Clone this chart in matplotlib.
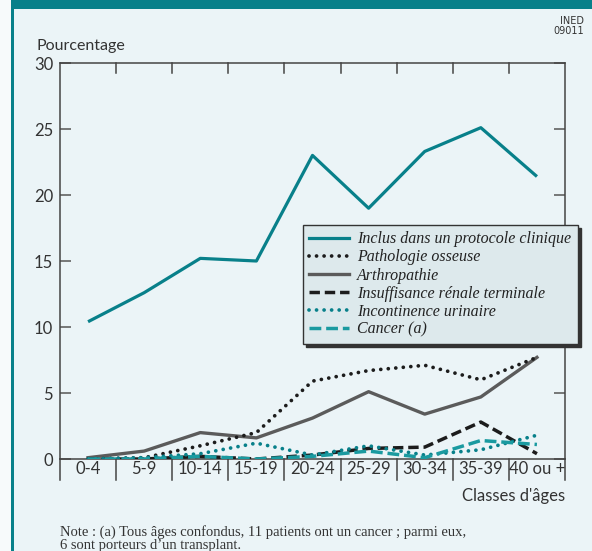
import matplotlib
matplotlib.use("Agg")
import matplotlib.pyplot as plt
from matplotlib.patches import Rectangle
from matplotlib.lines import Line2D
import matplotlib.transforms as mtransforms

W, H = 592, 551
categories = ["0-4", "5-9", "10-14", "15-19", "20-24", "25-29", "30-34", "35-39", "40 ou +"]
inclus = [10.4, 12.6, 15.2, 15.0, 23.0, 19.0, 23.3, 25.1, 21.4]
pathologie = [0.0, 0.1, 1.0, 2.0, 5.9, 6.7, 7.1, 6.0, 7.7]
arthropathie = [0.1, 0.6, 2.0, 1.6, 3.1, 5.1, 3.4, 4.7, 7.7]
insuffisance = [0.0, 0.0, 0.2, 0.0, 0.3, 0.8, 0.9, 2.8, 0.4]
incontinence = [0.0, 0.1, 0.4, 1.2, 0.3, 1.0, 0.3, 0.7, 1.8]
cancer = [0.0, 0.0, 0.2, 0.0, 0.2, 0.6, 0.1, 1.4, 1.1]
yticks = [0, 5, 10, 15, 20, 25, 30]

TEAL = "#08808a"
TEAL2 = "#1a9aa0"
GRAY = "#5b5b5b"
BLACK = "#1c1c1c"
PANEL = "#ebf4f7"
SANS = ["Lato", "DejaVu Sans"]
SERIF = ["Liberation Serif", "DejaVu Serif"]

DOT = (0, (0.01, 2.0))
DASH_K = (0, (3.0, 1.4))
DASH_T = (0, (3.4, 1.4))

fig = plt.figure(figsize=(W / 100, H / 100), dpi=100)
fig.patch.set_facecolor("#f7fafb")

def fx(x):
    return x / W

def fy(y):
    return 1 - y / H

# Frame
fig.patches.append(Rectangle((fx(14), 0), 1 - fx(14), fy(9), transform=fig.transFigure,
                             facecolor=PANEL, edgecolor="none", zorder=-10))
fig.patches.append(Rectangle((fx(11), fy(9)), 1 - fx(11), 9 / H, transform=fig.transFigure,
                             facecolor=TEAL, edgecolor="none", zorder=-9))
fig.patches.append(Rectangle((fx(11), 0), 3 / W, 1, transform=fig.transFigure,
                             facecolor=TEAL, edgecolor="none", zorder=-9))
fig.text(fx(360), fy(-6), "(en pourcentage par tranche d'âge)", ha="center", va="baseline",
         color="white", fontsize=17, fontweight="bold", family=SERIF)

ax = fig.add_axes([fx(60), 1 - 459 / H, (565 - 60) / W, (459 - 63) / H])
ax.set_facecolor("none")
x = list(range(len(categories)))

ax.plot(x, inclus, color=TEAL, lw=2.3, solid_capstyle="butt", zorder=5)
ax.plot(x, pathologie, color=BLACK, lw=2.7, ls=DOT, dash_capstyle="round", zorder=4)
ax.plot(x, arthropathie, color=GRAY, lw=2.4, zorder=3)
ax.plot(x, insuffisance, color=BLACK, lw=2.5, ls=DASH_K, zorder=4)
ax.plot(x, incontinence, color=TEAL, lw=2.7, ls=DOT, dash_capstyle="round", zorder=4)
ax.plot(x, cancer, color=TEAL2, lw=2.5, ls=DASH_T, zorder=4)

ax.set_xlim(-0.5, len(categories) - 0.5)
ax.set_ylim(0, 30)
ax.set_yticks(yticks)
ax.set_yticklabels([str(v) for v in yticks], family=SANS, fontsize=12, color="#333333")
ax.tick_params(axis="y", direction="in", length=8, width=1.1, color="#555555", pad=5,
               right=True, left=True)
ax.set_xticks([])
for sp in ax.spines.values():
    sp.set_color("#444444")
    sp.set_linewidth(1.1)

# top ticks and category separators
trans = mtransforms.blended_transform_factory(ax.transData, ax.transAxes)
ext = 21 / 396
for b in [i + 0.5 for i in range(-1, len(categories))]:
    if -0.5 < b < len(categories) - 0.5:
        ax.plot([b, b], [1, 1 - 10 / 396], transform=trans, color="#444444", lw=1.1, clip_on=False)
    ax.plot([b, b], [0, -ext], transform=trans, color="#444444", lw=1.1, clip_on=False)
for i, c in enumerate(categories):
    ax.text(i, -10 / 396, c, transform=trans, ha="center", va="center", fontsize=12,
            family=SANS, color="#333333")

fig.text(fx(565), fy(496), "Classes d'âges", ha="right", va="center", fontsize=12,
         family=SANS, color="#333333")
fig.text(fx(37), fy(46), "Pourcentage", ha="left", va="center", fontsize=11.5,
         family=SANS, color="#333333")
fig.text(fx(584), fy(26), "INED\n09011", ha="right", va="center", fontsize=7,
         family=["Liberation Sans Narrow", "DejaVu Sans"], color="#333333", linespacing=0.95)
fig.text(fx(60), fy(532), "Note : (a) Tous âges confondus, 11 patients ont un cancer ; parmi eux,",
         ha="left", va="center", fontsize=10.5, family=SERIF, color="#333333")
fig.text(fx(60), fy(546), "6 sont porteurs d\u2019un transplant.",
         ha="left", va="center", fontsize=10.5, family=SERIF, color="#333333")

handles = [
    Line2D([], [], color=TEAL, lw=2.3),
    Line2D([], [], color=BLACK, lw=2.7, ls=DOT, dash_capstyle="round"),
    Line2D([], [], color=GRAY, lw=2.4),
    Line2D([], [], color=BLACK, lw=2.5, ls=DASH_K),
    Line2D([], [], color=TEAL, lw=2.7, ls=DOT, dash_capstyle="round"),
    Line2D([], [], color=TEAL2, lw=2.5, ls=DASH_T),
]
labels = ["Inclus dans un protocole clinique", "Pathologie osseuse", "Arthropathie",
          "Insuffisance rénale terminale", "Incontinence urinaire", "Cancer (a)"]
leg = fig.legend(handles, labels, loc="upper left", bbox_to_anchor=(fx(303), fy(225)),
                 bbox_transform=fig.transFigure, frameon=True, fancybox=False,
                 shadow={"color": "#333333", "alpha": 1.0},
                 prop={"family": SERIF, "style": "italic", "size": 11.5},
                 handlelength=2.5, handletextpad=0.5, labelspacing=0.13,
                 borderpad=0.4, borderaxespad=0)
fr = leg.get_frame()
fr.set_facecolor("#dde9ec")
fr.set_edgecolor("#333333")
fr.set_linewidth(1.0)
fr.set_alpha(1)
for t in leg.get_texts():
    t.set_color("#222222")

fig.savefig("out.png", dpi=100, facecolor=fig.get_facecolor())
